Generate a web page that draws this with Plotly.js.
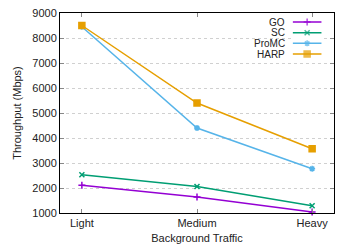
<!DOCTYPE html>
<html><head><meta charset="utf-8">
<script src="https://cdn.plot.ly/plotly-3.0.1.min.js"></script>
<style>html,body{margin:0;padding:0;background:#fff}#c{width:354px;height:248px}</style>
</head><body><div id="c"></div>
<script>
const categories = ["Light", "Medium", "Heavy"];
const seriesNames = ["GO", "SC", "ProMC", "HARP"];
const GO = [2110, 1640, 1040];
const SC = [2530, 2060, 1290];
const ProMC = [8450, 4400, 2770];
const HARP = [8500, 5400, 3570];
const yTicks = [1000, 2000, 3000, 4000, 5000, 6000, 7000, 8000, 9000];

const values = [GO, SC, ProMC, HARP];
const colors = ["#9400d3", "#009e73", "#56b4e9", "#e69f00"];
const symbols = ["cross-thin-open", "x-thin-open", "asterisk-open", "square"];
const msizes = [5, 5, 5, 6];

const traces = [];
values.forEach((v, i) => {
  traces.push({
    x: categories, y: v, type: "scatter", mode: "lines+markers",
    line: {color: colors[i], width: 1.5},
    marker: {symbol: symbols[i], size: msizes[i], color: colors[i], line: {color: colors[i], width: 1.5}},
    showlegend: false, name: seriesNames[i], cliponaxis: false
  });
});
// custom legend (text left, sample right, like gnuplot)
const annotations = [];
seriesNames.forEach((n, i) => {
  traces.push({
    x: [0, 0.5, 1], y: [i, i, i], xaxis: "x2", yaxis: "y2",
    type: "scatter", mode: "lines+markers", showlegend: false, hoverinfo: "skip",
    line: {color: colors[i], width: 1.5},
    marker: {symbol: symbols[i], size: [0, msizes[i], 0], color: colors[i], line: {color: colors[i], width: 1.5}},
    cliponaxis: false
  });
  annotations.push({
    xref: "paper", yref: "y2", x: 0.826, y: i, text: n, showarrow: false,
    xanchor: "right", yanchor: "middle", font: {size: 10, color: "#222"},
    borderpad: 0
  });
});

const layout = {
  width: 354, height: 248,
  margin: {l: 60, r: 20, t: 13, b: 35},
  paper_bgcolor: "#fff", plot_bgcolor: "#fff",
  font: {family: "Liberation Sans, Arial, sans-serif", size: 11, color: "#222"},
  xaxis: {
    type: "category", range: [-0.19, 2.19], showgrid: false,
    showline: true, linecolor: "#000", linewidth: 1, mirror: "ticks",
    ticks: "inside", ticklen: 4, tickcolor: "#888", zeroline: false,
    title: {text: "Background Traffic", font: {size: 11}, standoff: 6},
    tickfont: {size: 11}
  },
  yaxis: {
    range: [1000, 9000], tickvals: yTicks, ticktext: yTicks.map(String),
    showgrid: true, gridcolor: "#d0d0d0", griddash: "dot", gridwidth: 1,
    showline: true, linecolor: "#000", linewidth: 1, mirror: "ticks",
    ticks: "inside", ticklen: 4, tickcolor: "#888", zeroline: false,
    title: {text: "Throughput (Mbps)", font: {size: 11}, standoff: 8},
    tickfont: {size: 11}
  },
  xaxis2: {domain: [0.849, 0.955], range: [0, 1], visible: false, fixedrange: true, anchor: "y2"},
  yaxis2: {domain: [0.779, 0.971], range: [3.3, -0.3], visible: false, fixedrange: true, anchor: "x2"},
  annotations: annotations,
  showlegend: false
};
Plotly.newPlot("c", traces, layout, {staticPlot: true});
</script></body></html>
